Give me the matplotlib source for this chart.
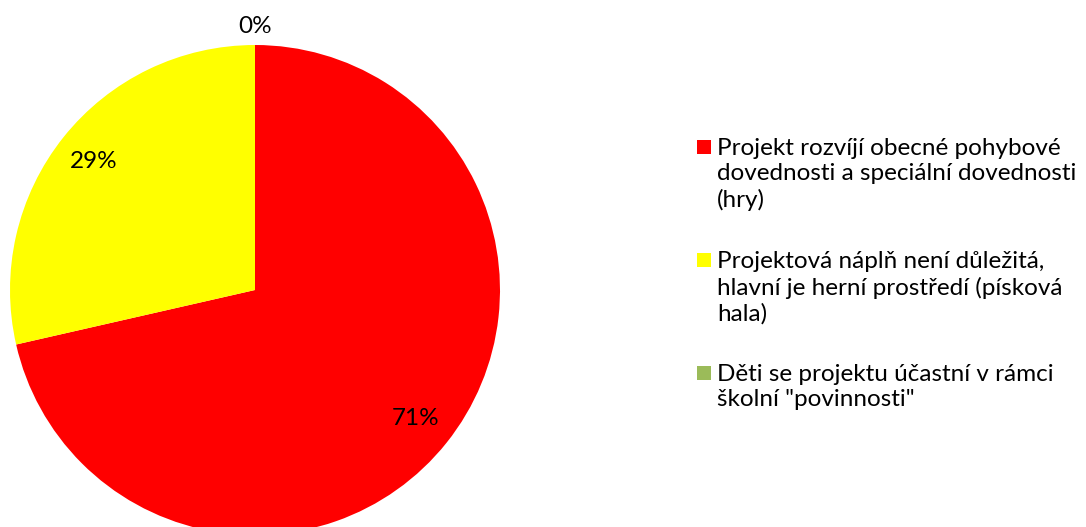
import numpy as np
import matplotlib.pyplot as plt
from matplotlib.patches import Rectangle

# data
labels = ['Projekt rozvíjí obecné pohybové\ndovednosti a speciální dovednosti\n(hry)',
          'Projektová náplň není důležitá,\nhlavní je herní prostředí (písková\nhala)',
          'Děti se projektu účastní v rámci\nškolní "povinnosti"']
values = [10, 4, 0]
colors = ['#FF0000', '#FFFF00', '#9BBB59']

plt.rcParams['font.family'] = ['Lato', 'DejaVu Sans']

fig = plt.figure(figsize=(10.86, 5.27), dpi=100)
W, H = 1086, 527
cx, cy, r = 255, 237, 245
ax = fig.add_axes([(cx - r) / W, (cy - r) / H, 2 * r / W, 2 * r / H])

wedges, _ = ax.pie(values, colors=colors, startangle=90, counterclock=False,
                   radius=1, wedgeprops=dict(linewidth=0))
ax.set_xlim(-1, 1)
ax.set_ylim(-1, 1)
ax.set_aspect('equal')
ax.axis('off')

total = sum(values)
for w, v in zip(wedges, values):
    ang = np.deg2rad((w.theta1 + w.theta2) / 2)
    d = 0.84 if v > 0 else 1.075
    ax.text(d * np.cos(ang), d * np.sin(ang), '%.0f%%' % (100.0 * v / total),
            ha='center', va='center', fontsize=17.5, clip_on=False)

# legend
fs = 17.5
y0 = 527 - 147
step = 113
for i, (lab, c) in enumerate(zip(labels, colors)):
    y = y0 - i * step
    fig.patches.append(Rectangle((697 / W, (y - 7) / H), 14 / W, 14 / H,
                                 transform=fig.transFigure, color=c, lw=0))
    fig.text(717 / W, (y + 9) / H, lab, ha='left', va='top', fontsize=fs,
             linespacing=1.26)

fig.savefig('out.png', dpi=100)
